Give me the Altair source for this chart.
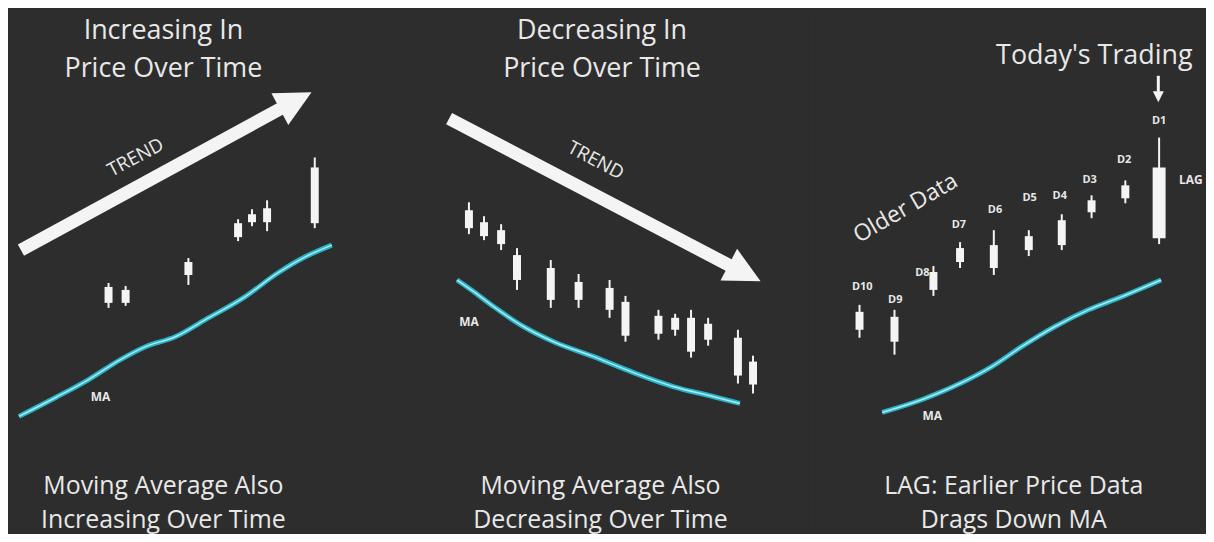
import altair as alt
import pandas as pd

BG = "#2d2d2d"
FG = "#e8e8e8"
WHITE = "#f4f4f4"
MA_OUT = "#27b3c6"
MA_IN = "#b0e8f0"
FONT = "Open Sans"

# ---------------- Panel 1: rising prices ----------------
P1_T = [23.8, 28.1, 43.9, 56.4, 59.9, 63.7, 75.7]
P1_OPEN = [46.2, 46.2, 51.8, 59.4, 62.4, 62.4, 62.2]
P1_CLOSE = [49.4, 48.8, 54.4, 62.2, 64.0, 65.2, 73.4]
P1_HIGH = [50.2, 49.6, 55.2, 63.0, 65.0, 66.8, 75.4]
P1_LOW = [45.2, 45.6, 49.8, 58.6, 61.6, 60.6, 61.2]
P1_MA_T = [1.25, 10.5, 18.8, 26.8, 33.1, 40.6, 48.1, 58.1, 66.4, 73.2, 80.0]
P1_MA = [23.4, 27.2, 30.8, 34.8, 37.4, 39.4, 42.8, 47.4, 52.2, 55.4, 57.8]
P1_TITLE = ["Increasing In", "Price Over Time"]
P1_FOOT = ["Moving Average Also", "Increasing Over Time"]

# ---------------- Panel 2: falling prices ----------------
P2_T = [14.5, 18.3, 22.6, 26.6, 35.1, 42.1, 49.9, 53.9, 62.2, 66.4, 70.4, 74.7, 82.2, 86.0]
P2_OPEN = [64.8, 62.4, 60.8, 55.8, 53.2, 50.4, 49.2, 46.4, 43.6, 43.2, 43.2, 42.0, 39.2, 34.4]
P2_CLOSE = [61.2, 59.6, 58.0, 50.8, 46.8, 46.8, 44.8, 39.6, 40.0, 40.8, 36.4, 38.8, 31.6, 29.8]
P2_HIGH = [66.4, 63.6, 62.0, 57.2, 54.8, 52.0, 50.8, 47.6, 44.8, 44.0, 44.8, 43.2, 40.8, 35.6]
P2_LOW = [60.0, 58.8, 56.8, 48.8, 45.2, 45.2, 43.2, 38.4, 38.8, 39.6, 35.2, 37.6, 30.0, 28.0]
P2_MA_T = [11.5, 15.8, 20.8, 28.3, 35.8, 45.9, 55.9, 65.9, 75.9, 82.7]
P2_MA = [50.8, 48.4, 45.4, 41.4, 38.4, 35.4, 32.2, 29.4, 27.4, 26.0]
P2_TITLE = ["Decreasing In", "Price Over Time"]
P2_FOOT = ["Moving Average Also", "Decreasing Over Time"]

# ---------------- Panel 3: lag ----------------
P3_LABELS = ["D10", "D9", "D8", "D7", "D6", "D5", "D4", "D3", "D2"]
P3_T = [12.8, 21.6, 31.4, 38.1, 46.6, 55.4, 63.7, 71.2, 79.7]
P3_OPEN = [44.4, 43.4, 52.4, 57.2, 57.8, 59.6, 62.8, 66.8, 69.8]
P3_CLOSE = [40.8, 38.4, 48.8, 54.4, 53.2, 56.8, 57.8, 64.4, 67.2]
P3_HIGH = [45.8, 44.8, 53.6, 58.4, 60.8, 60.8, 64.0, 67.8, 70.8]
P3_LOW = [39.2, 35.8, 47.6, 53.2, 51.8, 55.6, 56.8, 63.2, 66.2]
P3_LABEL_T = [13.5, 21.8, 28.6, 37.8, 46.9, 55.6, 63.2, 70.7, 79.4]
P3_LABEL_P = [49.4, 46.8, 52.2, 61.8, 64.8, 67.2, 67.6, 70.8, 74.8]
TODAY_T = [88.2]
TODAY_OPEN = [59.2]
TODAY_CLOSE = [73.4]
TODAY_HIGH = [79.4]
TODAY_LOW = [58.0]
P3_MA_T = [18.5, 28.6, 38.6, 46.1, 53.6, 61.9, 70.4, 78.7, 88.7]
P3_MA = [24.2, 26.8, 30.2, 33.4, 37.4, 41.4, 44.8, 47.4, 50.8]
P3_FOOT = ["LAG: Earlier Price Data", "Drags Down MA"]

W, H = 399, 526
BIG = 27
FOOT = 25
XS = alt.Scale(domain=[0, 100], nice=False, zero=False)
YS = alt.Scale(domain=[0, 105.2], nice=False, zero=False)


def X(f="t"):
    return alt.X(f"{f}:Q", scale=XS, axis=None)


def Y(f="p"):
    return alt.Y(f"{f}:Q", scale=YS, axis=None)


def text(ts, ps, labels, size, angle=None, weight="normal", color=FG):
    df = pd.DataFrame({"t": ts, "p": ps, "label": labels})
    kw = dict(font=FONT, fontSize=size, color=color, align="center",
              baseline="middle", fontWeight=weight)
    if angle is not None:
        kw["angle"] = angle
    return alt.Chart(df).mark_text(**kw).encode(x=X(), y=Y(), text="label:N")


def candles(ts, o, c, h, l, body=8):
    df = pd.DataFrame({"t": ts, "open": o, "close": c, "high": h, "low": l})
    base = alt.Chart(df)
    wick = base.mark_rule(color=WHITE, strokeWidth=2).encode(
        x=X(), y=Y("low"), y2="high:Q")
    bar = base.mark_rule(color=WHITE, strokeWidth=body).encode(
        x=X(), y=Y("open"), y2="close:Q")
    return wick + bar


def ma(ts, vals):
    df = pd.DataFrame({"t": ts, "p": vals})
    base = alt.Chart(df)
    outer = base.mark_line(color=MA_OUT, strokeWidth=5, interpolate="monotone").encode(x=X(), y=Y())
    inner = base.mark_line(color=MA_IN, strokeWidth=1.5, interpolate="monotone").encode(x=X(), y=Y())
    return outer + inner


def arrow(t0, p0, t1, p1, tc, pc, angle, width, head):
    stem = alt.Chart(pd.DataFrame({"t": [t0], "p": [p0], "t2": [t1], "p2": [p1]})).mark_rule(
        color=WHITE, strokeWidth=width).encode(x=X(), y=Y(), x2="t2:Q", y2="p2:Q")
    tip = alt.Chart(pd.DataFrame({"t": [tc], "p": [pc]})).mark_point(
        shape="M0,-1L1,1L-1,1Z", filled=True, opacity=1, color=WHITE,
        size=head * head, angle=angle, strokeWidth=0).encode(x=X(), y=Y())
    return stem + tip


panel1 = alt.layer(
    text([37.6, 37.6], [100.8, 93.2], P1_TITLE, BIG),
    text([37.6, 37.6], [9.4, 2.6], P1_FOOT, FOOT),
    arrow(1.75, 56.8, 68.5, 85.8, 70.9, 86.8, 62, 13, 36),
    text([30.6], [75.4], ["TREND"], 19, angle=332),
    ma(P1_MA_T, P1_MA),
    candles(P1_T, P1_OPEN, P1_CLOSE, P1_HIGH, P1_LOW),
    text([21.8], [27.2], ["MA"], 12, weight="bold"),
).properties(width=W, height=H)

panel2 = alt.layer(
    text([48.0, 48.0], [100.8, 93.2], P2_TITLE, BIG),
    text([47.6, 47.6], [9.4, 2.6], P2_FOOT, FOOT),
    arrow(9.5, 83.2, 81.3, 53.2, 83.9, 52.2, 117.6, 13, 36),
    text([46.4], [74.8], ["TREND"], 19, angle=28),
    ma(P2_MA_T, P2_MA),
    candles(P2_T, P2_OPEN, P2_CLOSE, P2_HIGH, P2_LOW),
    text([14.5], [42.4], ["MA"], 12, weight="bold"),
).properties(width=W, height=H)

panel3 = alt.layer(
    text([71.9], [95.8], ["Today's Trading"], BIG),
    arrow(88.0, 91.8, 88.0, 88.6, 88.0, 87.6, 180, 3, 11),
    text([51.6, 51.6], [9.4, 2.6], P3_FOOT, FOOT),
    text([24.4], [65.2], ["Older Data"], 23, angle=330),
    ma(P3_MA_T, P3_MA),
    candles(P3_T, P3_OPEN, P3_CLOSE, P3_HIGH, P3_LOW),
    candles(TODAY_T, TODAY_OPEN, TODAY_CLOSE, TODAY_HIGH, TODAY_LOW, body=13),
    text(P3_LABEL_T, P3_LABEL_P, P3_LABELS, 11, weight="bold"),
    text([88.2], [82.8], ["D1"], 11, weight="bold"),
    text([96.2], [70.8], ["LAG"], 12, weight="bold"),
    text([31.1], [23.4], ["MA"], 12, weight="bold"),
).properties(width=W, height=H)

chart = alt.hconcat(panel1, panel2, panel3, spacing=0).properties(
    padding=0, background=BG
).configure_view(stroke=None, fill=BG)

chart.save("out.html", embed_options={"renderer": "svg", "actions": False})
